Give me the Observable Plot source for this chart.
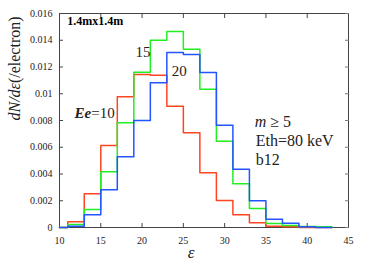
<!DOCTYPE html>
<html>
<head>
<meta charset="utf-8">
<script src="https://cdn.jsdelivr.net/npm/d3@7"></script>
<script src="https://cdn.jsdelivr.net/npm/@observablehq/plot@0.6"></script>
<style>
  html, body { margin: 0; padding: 0; background: #fff; }
  svg { display: block; }
  svg text { font-family: "Liberation Serif", "DejaVu Serif", serif !important; }
</style>
</head>
<body>
<div id="chart"></div>
<script>
// Left edges of the 2-unit bins
const binEdges = [11, 13, 15, 17, 19, 21, 23, 25, 27, 29, 31, 33, 35, 37, 39, 41];
const binWidth = 2;
const ee10 = [0.00043, 0.00252, 0.00613, 0.00977, 0.01144, 0.01139, 0.00907, 0.00708, 0.00409, 0.00202, 0.00095, 0.00035, 0.0001, 0.00005, 0, 0];
const ee15 = [0.00022, 0.00135, 0.00416, 0.00783, 0.01161, 0.0140, 0.01466, 0.01333, 0.01034, 0.00645, 0.00327, 0.00142, 0.0003, 0.00015, 0.00008, 0.00005];
const ee20 = [0.0001, 0.00095, 0.00282, 0.00529, 0.0080, 0.01082, 0.01308, 0.01294, 0.01159, 0.00764, 0.00436, 0.0020, 0.00062, 0.00032, 0.00005, 0];
const xTicks = [10, 15, 20, 25, 30, 35, 40, 45];
const yTicks = [0, 0.002, 0.004, 0.006, 0.008, 0.01, 0.012, 0.014, 0.016];
const seriesColors = {ee10: "#ff4422", ee15: "#22ee22", ee20: "#2255ff"};

function stepPoints(vals) {
  const pts = [{x: 10, y: 0}];
  binEdges.forEach((e, i) => pts.push({x: e, y: vals[i]}));
  pts.push({x: binEdges[binEdges.length - 1] + binWidth, y: 0});
  return pts;
}

const serif = "Liberation Serif, DejaVu Serif, serif";
const fmtY = d => String(+d.toFixed(3));

const chart = Plot.plot({
  width: 368,
  height: 264,
  marginLeft: 59,
  marginRight: 20,
  marginTop: 13,
  marginBottom: 37,
  style: {fontFamily: serif, fontSize: "10px", background: "#fff", color: "#222"},
  x: {domain: [10, 45]},
  y: {domain: [0, 0.016]},
  marks: [
    Plot.frame({stroke: "#444", strokeWidth: 1}),
    Plot.axisX(xTicks, {anchor: "bottom", tickSize: 0, tickPadding: 9, label: null, fontSize: 10, fontFamily: serif}),
    Plot.axisX(xTicks, {anchor: "bottom", tickSize: -4, tickFormat: () => "", label: null, stroke: "#444"}),
    Plot.axisX(xTicks, {anchor: "top", tickSize: -4, tickFormat: () => "", label: null, stroke: "#444"}),
    Plot.axisY(yTicks, {anchor: "left", tickSize: 0, tickPadding: 7, tickFormat: fmtY, label: null, fontSize: 10, fontFamily: serif}),
    Plot.axisY(yTicks, {anchor: "left", tickSize: -4, tickFormat: () => "", label: null, stroke: "#444"}),
    Plot.axisY(yTicks, {anchor: "right", tickSize: -4, tickFormat: () => "", label: null, stroke: "#777"}),
    Plot.line(stepPoints(ee10), {x: "x", y: "y", curve: "step-after", stroke: seriesColors.ee10, strokeWidth: 1.5}),
    Plot.line(stepPoints(ee15), {x: "x", y: "y", curve: "step-after", stroke: seriesColors.ee15, strokeWidth: 1.5}),
    Plot.line(stepPoints(ee20), {x: "x", y: "y", curve: "step-after", stroke: seriesColors.ee20, strokeWidth: 1.5}),
    Plot.text(["1.4mx1.4m"], {x: 10.93, y: 0.01546, textAnchor: "start", fontSize: 12, fontWeight: "bold", fill: "#000", fontFamily: serif}),
    Plot.text(["15"], {x: 19.21, y: 0.01314, textAnchor: "start", fontSize: 15, fill: "#222", fontFamily: serif}),
    Plot.text(["20"], {x: 23.58, y: 0.01165, textAnchor: "start", fontSize: 15, fill: "#222", fontFamily: serif}),
    Plot.text(["EE_LABEL"], {x: 11.82, y: 0.00858, textAnchor: "start", fontSize: 15, fill: "#222", fontFamily: serif}),
    Plot.text(["M_LABEL"], {x: 33.64, y: 0.00786, textAnchor: "start", fontSize: 16, fill: "#222", fontFamily: serif}),
    Plot.text(["Eth=80 keV"], {x: 33.76, y: 0.00644, textAnchor: "start", fontSize: 16, fill: "#222", fontFamily: serif}),
    Plot.text(["b12"], {x: 33.76, y: 0.00509, textAnchor: "start", fontSize: 16, fill: "#222", fontFamily: serif}),
    Plot.text(["ε"], {frameAnchor: "bottom", dx: -13, dy: 30, fontSize: 17, fontStyle: "italic", fill: "#222", fontFamily: serif}),
    Plot.text(["YLABEL"], {frameAnchor: "left", rotate: -90, dx: -45, fontSize: 16, fill: "#222", fontFamily: serif})
  ]
});

document.getElementById("chart").appendChild(chart);

// mixed-style labels
d3.select(chart).selectAll("text").each(function() {
  const t = d3.select(this);
  const s = this.textContent;
  if (s === "EE_LABEL") {
    t.text("");
    t.append("tspan").attr("font-style", "italic").attr("font-weight", "bold").text("Ee");
    t.append("tspan").text("=10");
  } else if (s === "M_LABEL") {
    t.text("");
    t.append("tspan").attr("font-style", "italic").text("m");
    t.append("tspan").text(" ≥ 5");
  } else if (s === "YLABEL") {
    t.text("");
    t.append("tspan").attr("font-style", "italic").text("dN/dε");
    t.append("tspan").text("(/electron)");
  }
});
</script>
</body>
</html>
